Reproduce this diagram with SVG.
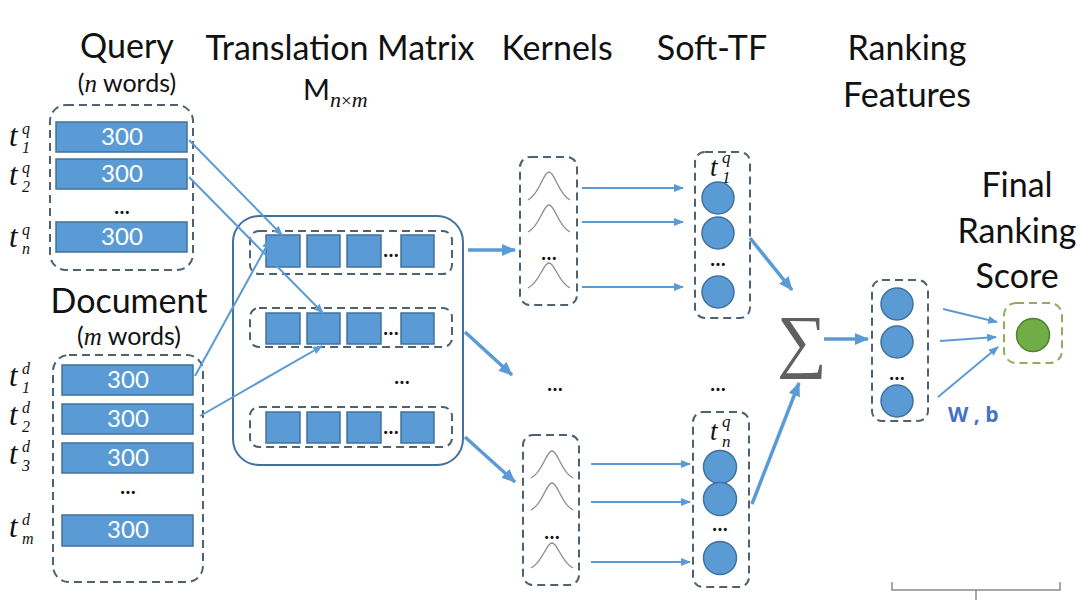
<svg xmlns="http://www.w3.org/2000/svg" width="1080" height="611" viewBox="0 0 1080 611">
<style>
.title{font-family:Lato,"Open Sans",sans-serif;font-size:34px;fill:#111;text-anchor:middle}
.sub{font-family:Lato,"Open Sans",sans-serif;font-size:25px;fill:#111;text-anchor:middle}
.mi{font-family:"Liberation Serif",serif;font-style:italic}
.bar{fill:#5B9BD5;stroke:#41719C;stroke-width:1.5}
.bt{font-family:Lato,"Open Sans",sans-serif;font-size:24px;fill:#fff;text-anchor:middle}
.dash{fill:none;stroke:#4F6273;stroke-width:2;stroke-dasharray:8 5}
.sq{fill:#5B9BD5;stroke:#41719C;stroke-width:1.5}
.circ{fill:#5B9BD5;stroke:#41719C;stroke-width:1.5}
.conn{stroke:#5B9BD5;fill:none;stroke-width:2;marker-end:url(#ah)}
.thick{stroke:#5B9BD5;fill:none;stroke-width:3.5;marker-end:url(#ahb)}
.gauss{fill:none;stroke:#8c8c8c;stroke-width:1.3}
.lab{font-family:"Liberation Serif",serif;font-style:italic;fill:#111}
.t{font-size:31px}
.s{font-size:16px}
.t2{font-size:27px}
.s2{font-size:17px}
.dots{font-family:Lato,sans-serif;font-size:20px;fill:#111;text-anchor:middle;font-weight:bold}
</style>
<defs>
<marker id="ah" markerWidth="10" markerHeight="8" refX="9" refY="4" orient="auto" markerUnits="userSpaceOnUse"><path d="M0,0 L10,4 L0,8 z" fill="#5B9BD5"/></marker>
<marker id="ahb" markerWidth="14" markerHeight="12" refX="13" refY="6" orient="auto" markerUnits="userSpaceOnUse"><path d="M0,0 L14,6 L0,12 z" fill="#5B9BD5"/></marker>
</defs>
<rect width="1080" height="611" fill="#fff"/>

<g id="titles">
<text class="title" x="127" y="58">Query</text>
<text class="sub" x="127" y="92">(<tspan class="mi">n</tspan> words)</text>
<text class="title" x="340" y="60">Translation Matrix</text>
<text x="303" y="100" style="font-family:Lato,sans-serif;font-size:29px;fill:#111">M<tspan class="mi" font-size="22" dy="7">n</tspan><tspan font-size="19" font-family="Liberation Serif">×</tspan><tspan class="mi" font-size="22">m</tspan></text>
<text class="title" x="557" y="60">Kernels</text>
<text class="title" x="712" y="60">Soft-TF</text>
<text class="title" x="907" y="60">Ranking</text>
<text class="title" x="907" y="107">Features</text>
<text class="title" x="1017" y="197">Final</text>
<text class="title" x="1017" y="243">Ranking</text>
<text class="title" x="1017" y="288">Score</text>
<text class="title" x="129" y="313">Document</text>
<text class="sub" x="129" y="345">(<tspan class="mi">m</tspan> words)</text>
</g>

<g id="query">
<rect class="dash" x="50" y="105" width="143" height="165" rx="16"/>
<rect class="bar" x="56" y="122" width="131" height="30"/><text class="bt" x="122" y="145">300</text>
<rect class="bar" x="56" y="159" width="131" height="30"/><text class="bt" x="122" y="182">300</text>
<text class="dots" x="122" y="214" font-weight="normal">…</text>
<rect class="bar" x="56" y="222" width="131" height="30"/><text class="bt" x="122" y="245">300</text>
<g class="lab"><text class="t" x="9" y="146">t</text><text class="s" x="22" y="134">q</text><text class="s" x="22" y="153">1</text></g>
<g class="lab"><text class="t" x="9" y="185">t</text><text class="s" x="22" y="173">q</text><text class="s" x="22" y="192">2</text></g>
<g class="lab"><text class="t" x="9" y="247">t</text><text class="s" x="22" y="235">q</text><text class="s" x="22" y="254">n</text></g>
</g>

<g id="document">
<rect class="dash" x="53" y="355" width="150" height="227" rx="16"/>
<rect class="bar" x="62" y="365" width="131" height="30"/><text class="bt" x="128" y="388">300</text>
<rect class="bar" x="62" y="404" width="131" height="30"/><text class="bt" x="128" y="427">300</text>
<rect class="bar" x="62" y="443" width="131" height="30"/><text class="bt" x="128" y="466">300</text>
<text class="dots" x="128" y="494" font-weight="normal">…</text>
<rect class="bar" x="62" y="515" width="131" height="31"/><text class="bt" x="128" y="538">300</text>
<g class="lab"><text class="t" x="9" y="386">t</text><text class="s" x="22" y="374">d</text><text class="s" x="22" y="393">1</text></g>
<g class="lab"><text class="t" x="9" y="425">t</text><text class="s" x="22" y="413">d</text><text class="s" x="22" y="432">2</text></g>
<g class="lab"><text class="t" x="9" y="464">t</text><text class="s" x="22" y="452">d</text><text class="s" x="22" y="471">3</text></g>
<g class="lab"><text class="t" x="9" y="537">t</text><text class="s" x="22" y="525">d</text><text class="s" x="22" y="544">m</text></g>
</g>

<g id="matrix">
<rect x="233" y="216" width="230" height="249" rx="26" fill="none" stroke="#41719C" stroke-width="2"/>
<rect class="dash" x="250" y="231" width="202" height="43" rx="9"/>
<rect class="sq" x="266" y="235" width="34" height="32"/><rect class="sq" x="307" y="235" width="33" height="32"/><rect class="sq" x="347" y="235" width="34" height="32"/><text class="dots" x="391" y="257" font-size="16">…</text><rect class="sq" x="401" y="235" width="33" height="32"/>
<rect class="dash" x="250" y="308" width="202" height="39" rx="9"/>
<rect class="sq" x="266" y="313" width="34" height="31"/><rect class="sq" x="307" y="313" width="33" height="31"/><rect class="sq" x="347" y="313" width="34" height="31"/><text class="dots" x="391" y="335" font-size="16">…</text><rect class="sq" x="401" y="313" width="33" height="31"/>
<text class="dots" x="402" y="384" font-size="16">…</text>
<rect class="dash" x="250" y="407" width="202" height="40" rx="9"/>
<rect class="sq" x="266" y="412" width="34" height="31"/><rect class="sq" x="307" y="412" width="33" height="31"/><rect class="sq" x="347" y="412" width="34" height="31"/><text class="dots" x="391" y="434" font-size="16">…</text><rect class="sq" x="401" y="412" width="33" height="31"/>
</g>

<g id="kernels-top">
<rect class="dash" x="520" y="157" width="57" height="148" rx="10"/>
<path class="gauss" d="M528,200 C540,194 543,172 549,172 C555,172 558,194 570,200"/>
<path class="gauss" d="M528,232 C540,226 543,205 549,205 C555,205 558,226 570,232"/>
<text class="dots" x="549" y="260" font-size="16">…</text>
<path class="gauss" d="M528,288 C540,282 543,263 549,263 C555,263 558,282 570,288"/>
</g>
<g id="kernels-bottom">
<rect class="dash" x="523" y="435" width="56" height="150" rx="10"/>
<path class="gauss" d="M531,478 C543,472 546,451 552,451 C558,451 561,472 573,478"/>
<path class="gauss" d="M531,510 C543,504 546,483 552,483 C558,483 561,504 573,510"/>
<text class="dots" x="552" y="539" font-size="16">…</text>
<path class="gauss" d="M531,568 C543,562 546,543 552,543 C558,543 561,562 573,568"/>
</g>
<text class="dots" x="555" y="391" font-size="16">…</text>
<text class="dots" x="718" y="391" font-size="16">…</text>

<g id="softtf-top">
<rect class="dash" x="695" y="152" width="55" height="166" rx="10"/>
<g class="lab"><text class="t2" x="710" y="176">t</text><text class="s2" x="722" y="163">q</text><text class="s2" x="722" y="183">1</text></g>
<circle class="circ" cx="718" cy="198" r="16"/>
<circle class="circ" cx="718" cy="233" r="16"/>
<text class="dots" x="718" y="266" font-size="16">…</text>
<circle class="circ" cx="718" cy="292" r="16"/>
</g>
<g id="softtf-bottom">
<rect class="dash" x="693" y="412" width="56" height="175" rx="10"/>
<g class="lab"><text class="t2" x="710" y="440">t</text><text class="s2" x="722" y="427">q</text><text class="s2" x="722" y="447">n</text></g>
<circle class="circ" cx="720" cy="467" r="16.5"/>
<circle class="circ" cx="720" cy="499" r="16.5"/>
<text class="dots" x="720" y="531" font-size="16">…</text>
<circle class="circ" cx="720" cy="558" r="16.5"/>
</g>

<g id="sum">
<text x="802" y="364" font-family="'Liberation Serif',serif" font-size="70" fill="#606060" text-anchor="middle">∑</text>
</g>

<g id="ranking-features">
<rect class="dash" x="872" y="280" width="56" height="141" rx="10"/>
<circle class="circ" cx="897" cy="304" r="16"/>
<circle class="circ" cx="897" cy="342" r="16"/>
<text class="dots" x="897" y="380" font-size="16">…</text>
<circle class="circ" cx="897" cy="401" r="16"/>
</g>

<g id="final">
<rect x="1004" y="303" width="58" height="60" rx="12" fill="none" stroke="#8FAE5C" stroke-width="2" stroke-dasharray="8 5"/>
<circle cx="1033" cy="335" r="16.5" fill="#70AD47" stroke="#507E32" stroke-width="1.5"/>
</g>

<text x="948" y="422" font-family="'Open Sans',Lato,sans-serif" font-weight="bold" font-size="21" fill="#4472C4">W , b</text>

<g id="bracket">
<path d="M892,582 L892,590 L1060,590 L1060,582 M976,590 L976,600" fill="none" stroke="#8c8c8c" stroke-width="1.5"/>
</g>

<g id="connectors">
<line class="conn" x1="189" y1="140" x2="282" y2="235"/>
<line class="conn" x1="189" y1="177" x2="323" y2="313"/>
<line class="conn" x1="195" y1="376" x2="270" y2="240"/>
<line class="conn" x1="200" y1="416" x2="322" y2="346"/>
<line class="thick" x1="468" y1="250" x2="515" y2="250"/>
<line class="thick" x1="465" y1="332" x2="512" y2="375"/>
<line class="thick" x1="465" y1="437" x2="515" y2="482"/>
<line class="conn" x1="582" y1="188" x2="683" y2="188"/>
<line class="conn" x1="582" y1="222" x2="683" y2="222"/>
<line class="conn" x1="582" y1="287" x2="683" y2="287"/>
<line class="conn" x1="591" y1="464" x2="690" y2="464"/>
<line class="conn" x1="591" y1="502" x2="690" y2="502"/>
<line class="conn" x1="591" y1="562" x2="690" y2="562"/>
<line class="thick" x1="750" y1="238" x2="792" y2="290"/>
<line class="thick" x1="752" y1="504" x2="799" y2="383"/>
<line class="thick" x1="824" y1="339" x2="868" y2="339"/>
<line class="conn" x1="943" y1="309" x2="997" y2="322"/>
<line class="conn" x1="940" y1="341" x2="996" y2="337"/>
<line class="conn" x1="938" y1="397" x2="998" y2="347"/>
</g>
</svg>
